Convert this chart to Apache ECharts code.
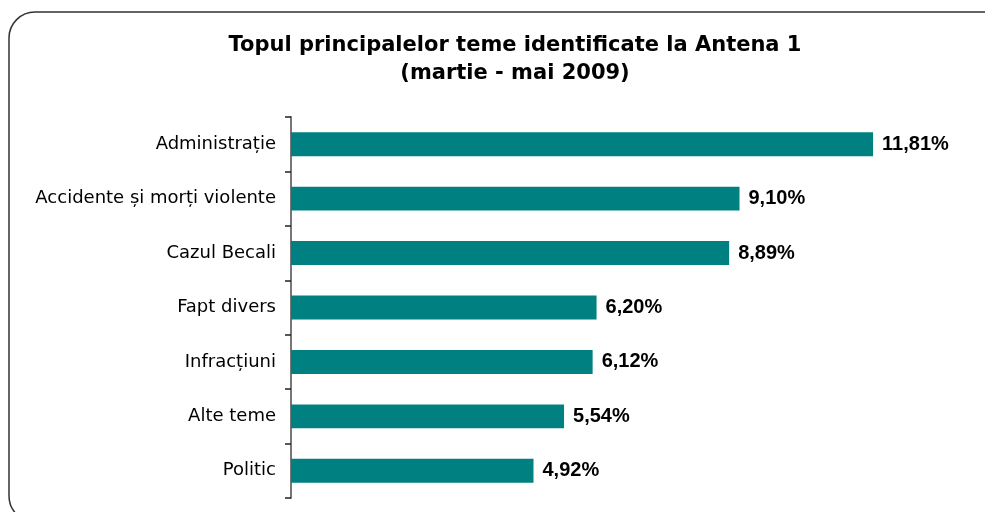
<!DOCTYPE html>
<html>
<head>
<meta charset="utf-8">
<script src="https://cdn.jsdelivr.net/npm/echarts@6/dist/echarts.min.js"></script>
<style>
  html, body { margin: 0; padding: 0; background: #fff; }
  #chart { width: 985px; height: 512px; }
</style>
</head>
<body>
<div id="chart"></div>
<script>
// teme (de sus in jos)
var categories = ['Administrație', 'Accidente și morți violente', 'Cazul Becali', 'Fapt divers', 'Infracțiuni', 'Alte teme', 'Politic'];
var values = [11.81, 9.10, 8.89, 6.20, 6.12, 5.54, 4.92];

var chart = echarts.init(document.getElementById('chart'));

var option = {
    backgroundColor: '#fff',
    animation: false,
    title: {
        left: 510,
        top: 27,
        textAlign: 'center',
        text: 'Topul principalelor teme identificate la Antena 1\n(martie - mai 2009)',
        textStyle: {
            fontFamily: 'DejaVu Sans',
            fontWeight: 'bold',
            fontSize: 21,
            lineHeight: 28,
            color: '#000'
        }
    },
    graphic: [
        {
            type: 'rect',
            silent: true,
            shape: {x: 9, y: 12, width: 1000, height: 510, r: 26},
            style: {fill: 'none', stroke: '#333', lineWidth: 1.5}
        }
    ],
    grid: {
        left: 291,
        top: 117,
        width: 690,
        height: 381
    },
    xAxis: {
        type: 'value',
        min: 0,
        max: 14,
        show: false
    },
    yAxis: {
        type: 'category',
        inverse: true,
        data: categories,
        axisLine: {show: true, lineStyle: {color: '#777', width: 2}},
        axisTick: {show: true, length: 6, lineStyle: {color: '#222', width: 1.5}},
        axisLabel: {
            margin: 15,
            fontFamily: 'DejaVu Sans',
            fontSize: 18,
            color: '#000'
        }
    },
    series: [
        {
            type: 'bar',
            data: values,
            barCategoryGap: '56%',
            itemStyle: {color: '#008080'},
            label: {
                show: true,
                position: 'right',
                distance: 9,
                fontFamily: 'Liberation Sans',
                fontWeight: 'bold',
                fontSize: 20,
                color: '#000',
                formatter: function (p) {
                    return p.value.toFixed(2).replace('.', ',') + '%';
                }
            }
        }
    ]
};

chart.setOption(option);
</script>
</body>
</html>
